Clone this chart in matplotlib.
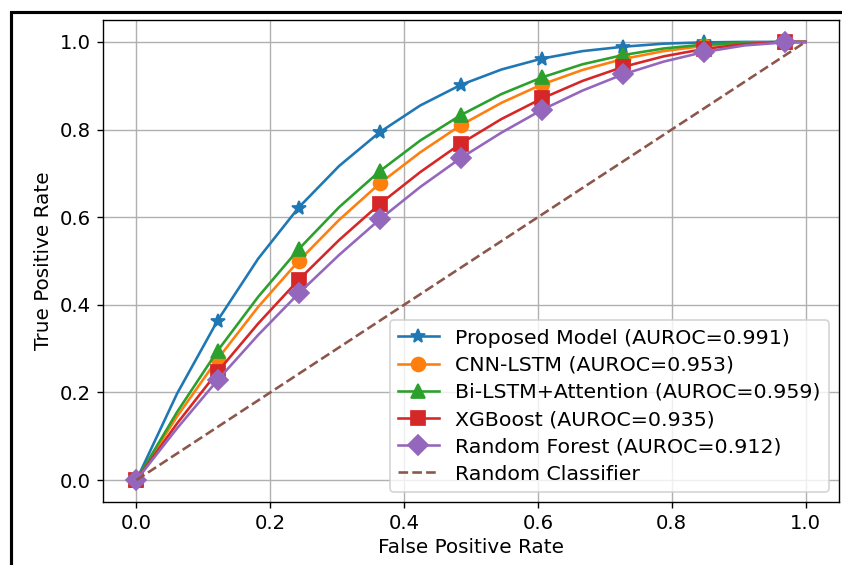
import matplotlib
matplotlib.use("Agg")
import matplotlib.pyplot as plt
from matplotlib.patches import Rectangle

# %% data
fpr = [0.0, 0.0606, 0.1212, 0.1818, 0.2424, 0.3030, 0.3636, 0.4242, 0.4848,
       0.5455, 0.6061, 0.6667, 0.7273, 0.7879, 0.8485, 0.9091, 0.9697, 1.0]

tpr_proposed = [0.0, 0.197, 0.364, 0.505, 0.622, 0.717, 0.794, 0.855, 0.902,
                0.937, 0.962, 0.979, 0.989, 0.996, 0.999, 1.0, 1.0, 1.0]
tpr_cnn_lstm = [0.0, 0.145, 0.276, 0.395, 0.500, 0.594, 0.677, 0.748, 0.810,
                0.861, 0.903, 0.936, 0.961, 0.979, 0.991, 0.998, 1.0, 1.0]
tpr_bilstm = [0.0, 0.155, 0.295, 0.418, 0.527, 0.623, 0.705, 0.775, 0.833,
              0.881, 0.919, 0.949, 0.970, 0.985, 0.994, 0.998, 1.0, 1.0]
tpr_xgb = [0.0, 0.129, 0.247, 0.357, 0.457, 0.548, 0.630, 0.703, 0.768,
           0.824, 0.871, 0.911, 0.943, 0.967, 0.984, 0.995, 1.0, 1.0]
tpr_rf = [0.0, 0.118, 0.228, 0.331, 0.426, 0.514, 0.595, 0.669, 0.735,
          0.793, 0.845, 0.889, 0.926, 0.955, 0.977, 0.992, 0.999, 1.0]

chance = [0.0, 1.0]

labels = ["Proposed Model (AUROC=0.991)",
          "CNN-LSTM (AUROC=0.953)",
          "Bi-LSTM+Attention (AUROC=0.959)",
          "XGBoost (AUROC=0.935)",
          "Random Forest (AUROC=0.912)"]
markers = ["*", "o", "^", "s", "D"]
colors = ["tab:blue", "tab:orange", "tab:green", "tab:red", "tab:purple"]

# %% plot
W, H, DPI = 842, 565, 125
fig = plt.figure(figsize=(W / DPI, H / DPI), dpi=DPI)
ax = fig.add_axes([103 / W, 1 - 502 / H, (839 - 103) / W, (502 - 20) / H])

curves = [tpr_proposed, tpr_cnn_lstm, tpr_bilstm, tpr_xgb, tpr_rf]
for tpr, lab, mk, c in zip(curves, labels, markers, colors):
    ax.plot(fpr, tpr, marker=mk, markevery=2, markersize=8, color=c, label=lab)

ax.plot(chance, chance, "--", color="tab:brown", label="Random Classifier")

ax.set_xlabel("False Positive Rate", fontsize=11.5, labelpad=3)
ax.set_ylabel("True Positive Rate", fontsize=11.5)
ax.tick_params(labelsize=11.3)
ax.grid(True)
ax.legend(loc="lower right", fontsize=11.8, labelspacing=0.4)

# frame from the screenshot
fig.add_artist(Rectangle((11 / W, -0.1), 2, 1 - 12 / H + 0.1,
                         transform=fig.transFigure, fill=False,
                         edgecolor="black", linewidth=1.8))

fig.savefig("out.png", dpi=DPI)
